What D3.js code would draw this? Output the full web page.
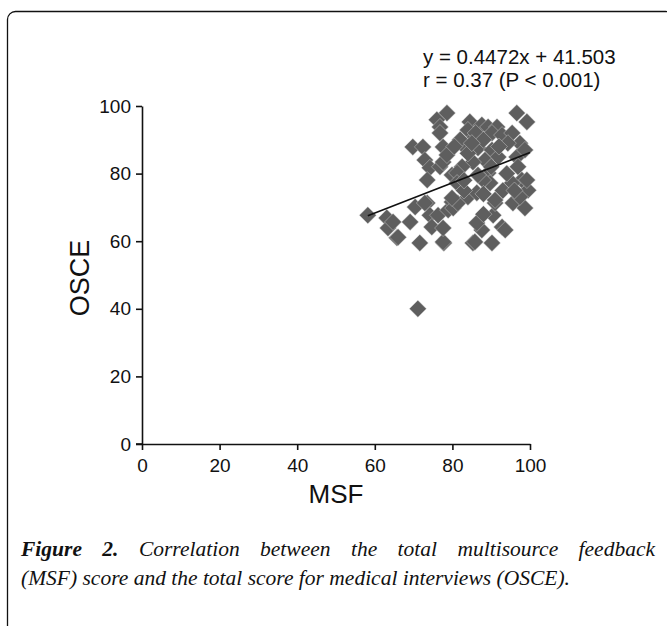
<!DOCTYPE html>
<html>
<head>
<meta charset="utf-8">
<script src="https://cdn.jsdelivr.net/npm/d3@7"></script>
<style>
  body { margin: 0; background: #fff; }
  svg { display: block; }
</style>
</head>
<body>
<div id="viz"></div>
<script>
// MSF (x) and OSCE (y) scores
const msf = [
  71.1, 71.6, 77.8, 85.3, 90.2, 65.7,
  58.2, 63.1, 63.4, 64.7, 66.0, 69.1, 70.4, 73.5, 74.2, 74.7, 76.3, 77.6, 77.6, 78.9, 79.9,
  85.8, 87.6, 86.3, 90.5, 92.8, 93.6, 91.0, 95.6, 98.7, 80.2, 81.4,
  78.6, 76.0, 76.8, 76.8, 77.6, 69.8, 72.4, 72.9, 74.2, 76.8, 77.6, 73.5, 72.9, 78.6, 79.9,
  96.6, 99.2, 84.5, 84.0, 87.6, 89.2, 91.5, 85.8, 90.2, 92.8, 95.4, 97.4, 94.3, 83.2, 86.6,
  90.2, 91.8, 88.4, 85.3, 82.5, 96.6, 96.9, 97.9, 99.5, 95.4, 97.4, 81.2, 81.2, 89.2, 89.7,
  87.9, 91.0, 84.0, 86.3, 79.9, 86.6, 99.2, 98.7, 93.0, 88.0, 83.0,
  82.0, 86.0, 88.0, 84.0, 92.0, 80.5, 83.0, 88.0, 94.0, 96.0, 85.0, 90.0
];
const osce = [
  40.0, 59.5, 59.5, 59.5, 59.5, 61.0,
  67.7, 66.9, 63.9, 65.7, 61.2, 65.7, 70.1, 71.3, 67.7, 64.2, 67.7, 59.8, 63.9, 69.2, 71.6,
  59.8, 63.3, 65.4, 67.7, 64.2, 63.3, 71.3, 71.3, 69.8, 69.8, 71.3,
  97.9, 95.9, 93.8, 92.0, 87.9, 87.9, 87.9, 84.0, 81.7, 82.0, 83.4, 78.1, 71.3, 85.5, 79.6,
  97.9, 95.3, 95.3, 92.9, 94.4, 93.8, 93.8, 90.8, 92.0, 91.4, 92.0, 89.0, 89.0, 87.9, 87.6,
  87.0, 84.9, 84.0, 83.4, 82.0, 84.9, 82.0, 78.1, 75.1, 77.2, 73.1, 80.2, 77.2, 80.2, 77.2,
  78.1, 72.2, 73.1, 74.3, 72.8, 79.6, 78.1, 87.0, 75.0, 68.0, 75.0,
  90.0, 92.0, 90.0, 86.0, 88.0, 88.0, 78.0, 74.0, 80.0, 75.0, 89.0, 82.0
];
const xTickValues = [0, 20, 40, 60, 80, 100];
const yTickValues = [0, 20, 40, 60, 80, 100];
const slope = 0.4472;
const intercept = 41.503;
const fitRange = [58.2, 100];
const annotation = ['y = 0.4472x + 41.503', 'r = 0.37 (P < 0.001)'];
const captionLabel = 'Figure 2.';
const captionLine1 = 'Correlation between the total multisource feedback';
const captionLine2 = '(MSF) score and the total score for medical interviews (OSCE).';

const width = 667, height = 626;
const plot = { left: 142, right: 530, top: 106, bottom: 444 };

const svg = d3.select('#viz').append('svg')
  .attr('width', width)
  .attr('height', height);

// frame around the figure
svg.append('rect')
  .attr('x', 7.5).attr('y', 11.5)
  .attr('width', 666).attr('height', 640)
  .attr('rx', 8).attr('ry', 8)
  .attr('fill', 'none')
  .attr('stroke', '#111')
  .attr('stroke-width', 1.3);

const x = d3.scaleLinear().domain([0, 100]).range([plot.left, plot.right]);
const y = d3.scaleLinear().domain([0, 100]).range([plot.bottom, plot.top]);

const xAxis = svg.append('g')
  .attr('transform', `translate(0, ${plot.bottom})`)
  .call(d3.axisBottom(x).tickValues(xTickValues).tickSize(6).tickSizeOuter(0));

const yAxis = svg.append('g')
  .attr('transform', `translate(${plot.left}, 0)`)
  .call(d3.axisLeft(y).tickValues(yTickValues).tickSize(6).tickSizeOuter(0));

[xAxis, yAxis].forEach(g => {
  g.select('.domain').attr('stroke', '#111').attr('stroke-width', 1.6);
  g.selectAll('.tick line').attr('stroke', '#111').attr('stroke-width', 1.6);
  g.selectAll('.tick text')
    .attr('fill', '#111')
    .style('font-family', 'Liberation Sans, Arial, sans-serif')
    .style('font-size', '19px');
});
xAxis.selectAll('.tick text').attr('dy', '1.0em');
yAxis.selectAll('.tick text').attr('x', -11);
// small overshoot of x axis line to the left of the y axis
xAxis.append('line')
  .attr('x1', plot.left - 6).attr('x2', plot.left)
  .attr('stroke', '#111').attr('stroke-width', 1.6);

// axis titles
svg.append('text')
  .attr('x', (plot.left + plot.right) / 2)
  .attr('y', 503)
  .attr('text-anchor', 'middle')
  .style('font-family', 'Liberation Sans, Arial, sans-serif')
  .style('font-size', '26px')
  .attr('fill', '#111')
  .text('MSF');

svg.append('text')
  .attr('transform', `translate(89, ${(plot.top + plot.bottom) / 2 + 3}) rotate(-90)`)
  .attr('text-anchor', 'middle')
  .style('font-family', 'Liberation Sans, Arial, sans-serif')
  .style('font-size', '27px')
  .attr('fill', '#111')
  .text('OSCE');

// points
const diamond = d3.symbol().type(d3.symbolSquare).size(145);
svg.append('g')
  .selectAll('path')
  .data(d3.zip(msf, osce))
  .enter().append('path')
    .attr('d', diamond)
    .attr('transform', d => `translate(${x(d[0])}, ${y(d[1])}) rotate(45)`)
    .attr('fill', '#5e5e5e')
    .attr('stroke', '#ddd')
    .attr('stroke-width', 0.4);

// trend line
svg.append('line')
  .attr('x1', x(fitRange[0])).attr('y1', y(slope * fitRange[0] + intercept))
  .attr('x2', x(fitRange[1])).attr('y2', y(slope * fitRange[1] + intercept))
  .attr('stroke', '#111')
  .attr('stroke-width', 1.6);

// regression annotation
svg.append('g')
  .selectAll('text')
  .data(annotation)
  .enter().append('text')
    .attr('x', 423)
    .attr('y', (d, i) => 64 + i * 23)
    .style('font-family', 'Liberation Sans, Arial, sans-serif')
    .style('font-size', '20.5px')
    .attr('fill', '#111')
    .text(d => d);

// caption
const cap = svg.append('g')
  .style('font-family', 'Liberation Serif, Times New Roman, serif')
  .style('font-size', '21.5px')
  .attr('fill', '#111');

// first line is justified between left and right margins
const capLeft = 21, capRight = 655;
const labelWords = captionLabel.split(' ');
const words1 = labelWords.concat(captionLine1.split(' '));
const wordNodes = words1.map((w, i) => cap.append('text')
  .attr('y', 556)
  .style('font-style', 'italic')
  .style('font-weight', i < labelWords.length ? 'bold' : 'normal')
  .text(w));
const widths = wordNodes.map(n => n.node().getComputedTextLength());
const gap = (capRight - capLeft - d3.sum(widths)) / (words1.length - 1);
let cx = capLeft;
wordNodes.forEach((n, i) => { n.attr('x', cx); cx += widths[i] + gap; });

cap.append('text')
  .attr('x', capLeft)
  .attr('y', 585)
  .style('font-style', 'italic')
  .text(captionLine2);
</script>
</body>
</html>
